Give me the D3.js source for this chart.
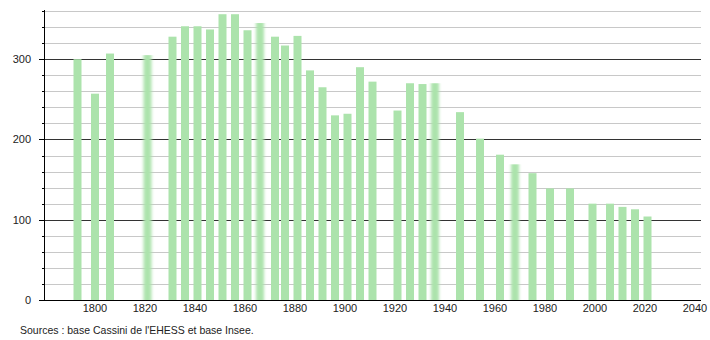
<!DOCTYPE html>
<html>
<head>
<meta charset="utf-8">
<script src="https://cdn.jsdelivr.net/npm/d3@7"></script>
<style>
  body { margin: 0; background: #fff; }
  svg { display: block; font-family: "Liberation Sans", Arial, sans-serif; }
</style>
</head>
<body>
<div id="chart"></div>
<script>
(function () {

  // census years and population
  var years = [1793, 1800, 1806, 1821, 1831, 1836, 1841, 1846, 1851, 1856, 1861, 1866, 1872, 1876,
               1881, 1886, 1891, 1896, 1901, 1906, 1911, 1921, 1926, 1931, 1936, 1946, 1954, 1962,
               1968, 1975, 1982, 1990, 1999, 2006, 2011, 2016, 2021]
  var population = [300, 257, 307, 305, 328, 341, 341, 337, 356, 356, 336, 345, 328, 317,
                    329, 286, 265, 230, 232, 290, 272, 236, 270, 269, 270, 234, 201, 181,
                    169, 158, 139, 139, 120, 120, 116, 113, 104]
  // years whose bars look smeared in the original
  var blurred = [1821, 1866, 1936, 1968]

  var xTicks = [1800, 1820, 1840, 1860, 1880, 1900, 1920, 1940, 1960, 1980, 2000, 2020, 2040]
  var yTicks = [0, 100, 200, 300]
  var yMinor = d3.range(20, 361, 20)

  var width = 710, height = 340

  var svg = d3.select("#chart").append("svg")
      .attr("width", width)
      .attr("height", height)

  var x = d3.scaleLinear().domain([1780, 2042]).range([45, 700])
  var y = d3.scaleLinear().domain([0, 360]).range([300, 11])

  var defs = svg.append("defs")
  defs.append("filter")
      .attr("id", "smear")
      .attr("x", "-50%").attr("width", "200%")
    .append("feGaussianBlur")
      .attr("stdDeviation", "1.4 0.6")

  // grid lines
  svg.selectAll(".grid")
    .data(yMinor.filter(function(d) { return d % 100 != 0 }))
    .enter().append("line")
    .attr("x1", 44).attr("x2", 701)
    .attr("y1", function(d) { return Math.round(y(d)) + 0.5 })
    .attr("y2", function(d) { return Math.round(y(d)) + 0.5 })
    .attr("stroke", "#c8c8c8")
    .attr("stroke-width", 1)

  svg.selectAll(".major")
    .data(yTicks.slice(1))
    .enter().append("line")
    .attr("x1", 44).attr("x2", 701)
    .attr("y1", function(d) { return Math.round(y(d)) + 0.5 })
    .attr("y2", function(d) { return Math.round(y(d)) + 0.5 })
    .attr("stroke", "#333")
    .attr("stroke-width", 1)

  // bars
  var data = years.map(function(yr, i) { return { year: yr, pop: population[i] } })

  svg.selectAll(".bar")
    .data(data)
    .enter().append("rect")
    .attr("x", function(d) { return x(d.year) - 4 })
    .attr("width", 8)
    .attr("y", function(d) { return y(d.pop) })
    .attr("height", function(d) { return y(0) - y(d.pop) })
    .attr("fill", "#ace3ac")
    .attr("filter", function(d) { return blurred.indexOf(d.year) >= 0 ? "url(#smear)" : null })

  // axes
  svg.append("line")
    .attr("x1", 44.5).attr("x2", 44.5)
    .attr("y1", 10).attr("y2", 300)
    .attr("stroke", "#000")

  svg.append("line")
    .attr("x1", 39).attr("x2", 701)
    .attr("y1", 300.5).attr("y2", 300.5)
    .attr("stroke", "#000")

  // y tick marks
  svg.selectAll(".ytick")
    .data(yMinor)
    .enter().append("line")
    .attr("x1", function(d) { return d % 100 == 0 ? 39 : 42 })
    .attr("x2", 44)
    .attr("y1", function(d) { return Math.round(y(d)) + 0.5 })
    .attr("y2", function(d) { return Math.round(y(d)) + 0.5 })
    .attr("stroke", "#000")

  svg.selectAll(".ylabel")
    .data(yTicks)
    .enter().append("text")
    .attr("x", 31)
    .attr("y", function(d) { return y(d) + 4 })
    .attr("text-anchor", "end")
    .attr("font-size", 11)
    .attr("fill", "#222")
    .text(function(d) { return d })

  svg.selectAll(".xlabel")
    .data(xTicks)
    .enter().append("text")
    .attr("x", function(d) { return x(d) })
    .attr("y", 312)
    .attr("text-anchor", "middle")
    .attr("font-size", 11)
    .attr("fill", "#222")
    .text(function(d) { return d })

  svg.append("text")
    .attr("x", 20)
    .attr("y", 334)
    .attr("font-size", 10.5)
    .attr("fill", "#222")
    .text("Sources : base Cassini de l'EHESS et base Insee.")

})()
</script>
</body>
</html>
